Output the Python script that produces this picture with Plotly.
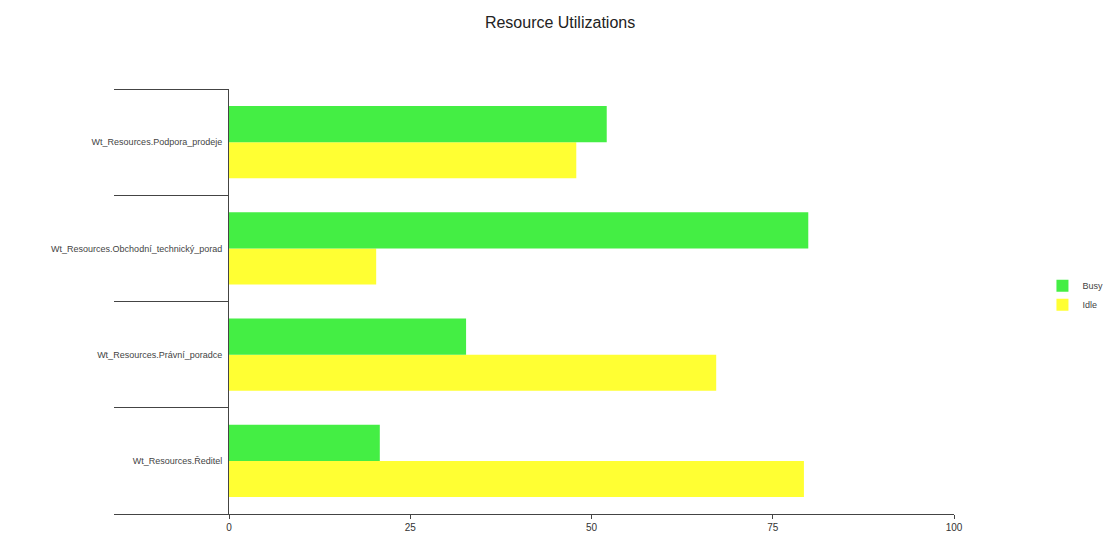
import plotly.graph_objects as go

categories = [
    "Wt_Resources.Podpora_prodeje",
    "Wt_Resources.Obchodní_technický_porad",
    "Wt_Resources.Právní_poradce",
    "Wt_Resources.Ředitel",
]
busy = [52.1, 79.9, 32.7, 20.8]
idle = [47.9, 20.3, 67.2, 79.3]
x_ticks = [0, 25, 50, 75, 100]

fig = go.Figure()
# Idle is added first so that, on a bottom-to-top category axis, Busy sits above it in each group
fig.add_trace(go.Bar(y=categories, x=idle, name="Idle", orientation="h",
                     marker=dict(color="#FFFF33", line=dict(width=0))))
fig.add_trace(go.Bar(y=categories, x=busy, name="Busy", orientation="h",
                     marker=dict(color="#44EE44", line=dict(width=0))))

fig.update_layout(
    width=1109, height=536,
    margin=dict(l=229, r=155, t=89, b=22, autoexpand=False),
    paper_bgcolor="white", plot_bgcolor="white",
    barmode="group", bargap=0.32, bargroupgap=0,
    title=dict(text="Resource Utilizations", x=0.505, xanchor="center", y=0.958, yanchor="middle",
               font=dict(family="Liberation Sans, Arial", size=16, color="#222")),
    font=dict(family="Liberation Sans, Arial", size=10, color="#444"),
    legend=dict(x=1.122, xanchor="left", y=0.515, yanchor="middle", traceorder="reversed",
                font=dict(size=9, color="#444"), itemwidth=30, tracegroupgap=2),
    showlegend=True,
)
fig.update_xaxes(range=[0, 100], tickvals=x_ticks, ticktext=[str(v) for v in x_ticks],
                 automargin=False,
                 showgrid=False, zeroline=False, showline=True, linecolor="#444", linewidth=1,
                 ticks="outside", ticklen=4, tickcolor="#444", tickfont=dict(size=10, color="#333"))
fig.update_yaxes(categoryorder="array", categoryarray=categories[::-1],
                 automargin=False, showgrid=False, zeroline=False,
                 showline=True, linecolor="#444", linewidth=1,
                 ticks="outside", tickson="boundaries", ticklen=114, tickcolor="#444",
                 ticklabelstandoff=4, tickfont=dict(size=9, color="#444"))

fig.write_html("out.html")
